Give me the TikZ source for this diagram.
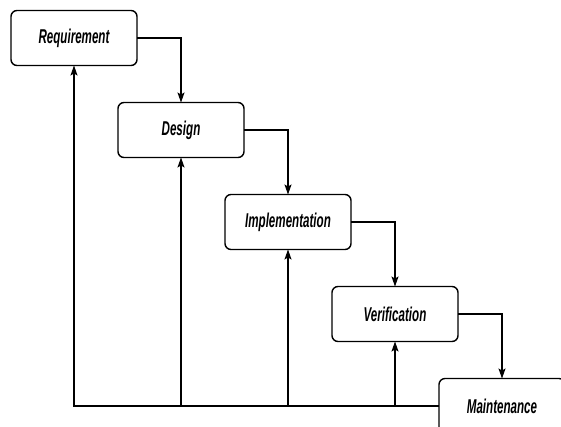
\documentclass[tikz,border=0pt]{standalone}
\usepackage{fontspec}
\usepackage{tikz}
\usetikzlibrary{positioning, arrows.meta}
\newfontfamily\phasefont{Liberation Sans}[FakeStretch=0.58]
\tikzset{
  phase/.style={
    draw=black, line width=1.4pt,
    rounded corners=6pt,
    fill=white,
    outer sep=0pt,
    minimum width=126pt,
    minimum height=55pt,
    inner sep=2pt,
    font=\phasefont\bfseries\itshape\fontsize{20}{24}\selectfont
  },
  flow/.style={
    -{Stealth[length=10pt,width=7pt,inset=2pt]},
    line width=1.1pt,
    draw=black
  }
}

\begin{document}
\begin{tikzpicture}[x=1pt, y=-1pt, node distance=37pt and -19pt]
  \useasboundingbox (0,0) rectangle (561,426);
  \node[phase] (req) at (74,38) {Requirement};
  \node[phase, below right=of req] (des) {Design};
  \node[phase, below right=of des] (imp) {Implementation};
  \node[phase, below right=of imp] (ver) {Verification};
  \node[phase, below right=of ver] (mai) {Maintenance};

  \draw[flow] (req.east) -| (des.north);
  \draw[flow] (des.east) -| (imp.north);
  \draw[flow] (imp.east) -| (ver.north);
  \draw[flow] (ver.east) -| (mai.north);

  \draw[flow] (mai.west) -| (req.south);
  \draw[flow] (des.south |- mai.west) -- (des.south);
  \draw[flow] (imp.south |- mai.west) -- (imp.south);
  \draw[flow] (ver.south |- mai.west) -- (ver.south);
\end{tikzpicture}
\end{document}
